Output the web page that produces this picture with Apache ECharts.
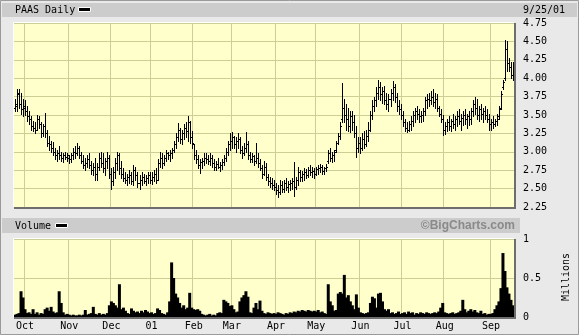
<!DOCTYPE html>
<html><head><meta charset="utf-8">
<script src="https://cdn.jsdelivr.net/npm/echarts@6/dist/echarts.min.js"></script>
<style>html,body{margin:0;padding:0;background:#e9e9e9;overflow:hidden}#c{width:579px;height:335px}</style>
</head><body><div id="c"></div><script>
// ---- data ----
const title = 'PAAS Daily';
const lastDateLabel = '9/25/01';
const startDate = '2000-09-25', endDate = '2001-09-25';
const holidays = ['2000-11-23','2000-12-25','2001-01-01','2001-01-15','2001-02-19','2001-04-13','2001-05-28','2001-07-04','2001-09-03','2001-09-11','2001-09-12','2001-09-13','2001-09-14'];
const monthLabels = ['01','Feb','Mar','Apr','May','Jun','Jul','Aug','Sep','Oct','Nov','Dec'];
const priceTicks = [2.25,2.50,2.75,3.00,3.25,3.50,3.75,4.00,4.25,4.50,4.75];
const volumeTicks = ['0','0.5','1'];

const open = [
3.60,3.62,3.80,3.65,3.58,
3.60,3.55,3.48,3.45,3.35,3.32,3.30,3.45,3.38,3.25,3.35,3.25,3.12,3.10,3.05,3.00,2.95,2.98,2.95,2.92,2.95,2.93,
2.92,2.90,2.95,3.00,2.98,3.05,2.95,2.88,2.82,2.85,2.90,2.82,2.75,2.80,2.70,2.80,2.92,2.85,2.78,2.88,2.92,
2.70,2.60,2.72,2.85,2.95,2.78,2.70,2.65,2.62,2.66,2.68,2.60,2.75,2.68,2.58,2.62,2.66,2.60,2.64,2.68,
2.62,2.66,2.70,2.62,2.85,2.92,2.85,2.92,2.98,2.95,2.98,3.02,3.10,3.20,3.30,3.18,3.25,3.32,3.28,3.40,3.20,
3.10,2.95,2.90,2.82,2.86,2.88,2.92,2.90,2.88,2.92,2.85,2.80,2.84,2.80,2.82,2.86,2.92,3.00,3.10,
3.15,3.20,3.10,3.15,3.18,3.02,2.98,3.05,3.10,2.95,2.90,2.94,2.88,2.92,2.85,2.78,2.70,2.80,2.66,2.60,2.58,2.55,
2.52,2.48,2.45,2.55,2.50,2.58,2.52,2.56,2.58,2.60,2.52,2.62,2.72,2.66,2.70,2.72,2.68,2.75,2.72,2.74,
2.70,2.76,2.78,2.80,2.74,2.78,2.88,2.98,2.92,2.95,3.02,3.12,3.22,3.45,3.60,3.50,3.45,3.35,3.48,3.40,3.25,3.05,
3.12,3.05,3.18,3.10,3.22,3.30,3.50,3.62,3.70,3.80,3.88,3.78,3.82,3.70,3.65,3.72,3.80,3.88,3.75,3.62,3.58,
3.50,3.40,3.32,3.30,3.38,3.42,3.50,3.55,3.52,3.48,3.50,3.55,3.70,3.72,3.70,3.75,3.68,3.72,3.60,3.52,3.45,
3.30,3.35,3.40,3.35,3.42,3.38,3.45,3.48,3.42,3.46,3.50,3.45,3.48,3.44,3.55,3.65,3.60,3.50,3.58,3.52,3.55,3.50,3.45,
3.38,3.40,3.38,3.42,3.48,3.60,3.88,4.00,4.40,4.20,4.15,4.05];
const high = [
3.72,3.86,3.86,3.80,3.72,
3.70,3.62,3.55,3.48,3.42,3.40,3.50,3.48,3.40,3.38,3.53,3.30,3.22,3.15,3.13,3.05,3.02,3.08,3.00,2.98,3.00,2.98,
2.95,2.98,3.05,3.08,3.12,3.08,3.00,2.95,2.92,2.95,2.98,2.88,2.85,2.92,2.85,2.98,3.00,2.98,2.92,3.00,2.95,
2.78,2.80,2.92,3.00,2.98,2.88,2.78,2.72,2.70,2.75,2.72,2.82,2.80,2.72,2.68,2.72,2.70,2.68,2.72,2.72,
2.72,2.75,2.78,2.90,3.00,2.98,2.95,3.02,3.00,3.02,3.05,3.15,3.25,3.39,3.32,3.30,3.38,3.40,3.48,3.42,3.28,
3.10,3.02,2.95,2.90,2.92,2.98,2.98,2.95,2.98,2.96,2.90,2.88,2.92,2.86,2.90,2.95,3.05,3.15,3.25,
3.27,3.22,3.20,3.25,3.20,3.08,3.12,3.27,3.15,3.00,2.98,2.96,3.12,2.98,2.90,2.82,2.88,2.85,2.70,2.66,2.64,2.62,
2.58,2.55,2.62,2.60,2.62,2.65,2.60,2.62,2.64,2.86,2.66,2.80,2.75,2.74,2.78,2.76,2.80,2.82,2.80,2.78,
2.80,2.82,2.84,2.82,2.80,2.84,3.02,3.05,3.00,3.02,3.15,3.25,3.40,3.93,3.72,3.65,3.60,3.55,3.55,3.50,3.35,3.20,
3.20,3.25,3.28,3.30,3.40,3.55,3.70,3.75,3.88,3.98,3.95,3.88,3.90,3.80,3.78,3.85,3.96,3.92,3.80,3.70,3.65,
3.55,3.45,3.40,3.42,3.48,3.55,3.60,3.62,3.58,3.55,3.60,3.75,3.78,3.80,3.82,3.85,3.80,3.78,3.62,3.58,3.50,
3.40,3.45,3.48,3.45,3.52,3.48,3.55,3.58,3.52,3.55,3.58,3.52,3.56,3.60,3.70,3.75,3.72,3.62,3.65,3.60,3.62,3.58,3.52,
3.45,3.48,3.45,3.52,3.62,3.82,3.98,4.52,4.50,4.28,4.22,4.22];
const low = [
3.55,3.55,3.60,3.52,3.48,
3.50,3.42,3.38,3.30,3.28,3.25,3.30,3.32,3.20,3.22,3.20,3.08,3.02,3.00,2.95,2.90,2.88,2.90,2.88,2.86,2.90,2.88,
2.85,2.86,2.90,2.92,2.95,2.92,2.85,2.78,2.75,2.80,2.78,2.70,2.68,2.62,2.62,2.75,2.80,2.72,2.68,2.78,2.65,
2.49,2.55,2.65,2.75,2.70,2.65,2.60,2.58,2.55,2.58,2.56,2.55,2.62,2.52,2.50,2.55,2.58,2.55,2.58,2.58,
2.56,2.60,2.58,2.62,2.80,2.78,2.82,2.88,2.90,2.88,2.92,3.00,3.05,3.15,3.12,3.10,3.18,3.20,3.15,3.12,3.05,
2.90,2.85,2.78,2.71,2.78,2.82,2.85,2.84,2.82,2.80,2.75,2.75,2.78,2.74,2.76,2.82,2.88,2.96,3.02,
3.05,3.05,3.00,3.05,2.98,2.92,2.95,3.00,2.90,2.86,2.86,2.82,2.85,2.80,2.75,2.65,2.68,2.62,2.55,2.52,2.50,2.48,
2.42,2.39,2.42,2.45,2.46,2.48,2.45,2.48,2.50,2.40,2.50,2.55,2.60,2.60,2.62,2.64,2.66,2.68,2.66,2.65,
2.68,2.70,2.72,2.70,2.70,2.74,2.85,2.88,2.86,2.88,3.00,3.10,3.18,3.40,3.40,3.30,3.28,3.27,3.30,3.20,2.93,3.00,
2.98,3.02,3.05,3.08,3.15,3.28,3.45,3.55,3.62,3.72,3.70,3.66,3.65,3.58,3.55,3.62,3.70,3.68,3.55,3.52,3.45,
3.35,3.28,3.27,3.28,3.30,3.35,3.40,3.45,3.40,3.40,3.42,3.50,3.60,3.62,3.65,3.62,3.60,3.55,3.48,3.40,3.23,
3.24,3.28,3.30,3.28,3.32,3.30,3.35,3.38,3.30,3.36,3.38,3.32,3.36,3.38,3.48,3.52,3.45,3.42,3.45,3.40,3.45,3.40,3.30,
3.30,3.32,3.35,3.36,3.45,3.58,3.85,3.98,4.10,4.10,4.00,3.98];
const close = [
3.65,3.78,3.65,3.58,3.62,
3.55,3.48,3.45,3.35,3.32,3.30,3.45,3.38,3.25,3.35,3.25,3.12,3.10,3.05,3.00,2.95,2.98,2.95,2.92,2.95,2.93,2.95,
2.90,2.95,3.00,2.98,3.05,2.95,2.88,2.82,2.85,2.90,2.82,2.75,2.80,2.70,2.80,2.92,2.85,2.78,2.88,2.92,2.70,
2.60,2.72,2.85,2.95,2.78,2.70,2.65,2.62,2.66,2.68,2.60,2.75,2.68,2.58,2.62,2.66,2.60,2.64,2.68,2.62,
2.66,2.70,2.62,2.85,2.92,2.85,2.92,2.98,2.95,2.98,3.02,3.10,3.20,3.30,3.18,3.25,3.32,3.28,3.40,3.20,3.12,
2.95,2.90,2.82,2.86,2.88,2.92,2.90,2.88,2.92,2.85,2.80,2.84,2.80,2.82,2.86,2.92,3.00,3.10,3.15,
3.20,3.10,3.15,3.18,3.02,2.98,3.05,3.10,2.95,2.90,2.94,2.88,2.92,2.85,2.78,2.70,2.80,2.66,2.60,2.58,2.55,2.52,
2.48,2.45,2.55,2.50,2.58,2.52,2.56,2.58,2.60,2.52,2.62,2.72,2.66,2.70,2.72,2.68,2.75,2.72,2.74,2.70,
2.76,2.78,2.80,2.74,2.78,2.80,2.98,2.92,2.95,3.00,3.12,3.22,3.35,3.60,3.50,3.45,3.35,3.48,3.40,3.25,3.05,3.12,
3.05,3.18,3.10,3.22,3.30,3.50,3.62,3.70,3.80,3.88,3.78,3.82,3.70,3.65,3.72,3.80,3.88,3.75,3.62,3.58,3.50,
3.40,3.32,3.30,3.38,3.42,3.50,3.55,3.52,3.48,3.50,3.55,3.70,3.72,3.70,3.75,3.68,3.72,3.60,3.52,3.45,3.30,
3.35,3.40,3.35,3.42,3.38,3.45,3.48,3.42,3.46,3.50,3.45,3.48,3.44,3.55,3.65,3.60,3.50,3.58,3.52,3.55,3.50,3.45,3.38,
3.40,3.38,3.42,3.45,3.58,3.78,3.95,4.40,4.20,4.15,4.05,4.18];
const volume = [
0.03,0.04,0.05,0.33,0.25,
0.10,0.05,0.06,0.04,0.10,0.04,0.06,0.03,0.05,0.04,0.10,0.12,0.08,0.13,0.07,0.05,0.06,0.33,0.18,0.06,0.03,0.04,
0.03,0.02,0.03,0.02,0.02,0.03,0.02,0.03,0.09,0.03,0.04,0.05,0.13,0.04,0.03,0.05,0.03,0.04,0.03,0.05,0.15,
0.20,0.18,0.15,0.12,0.42,0.10,0.12,0.08,0.05,0.04,0.11,0.08,0.06,0.07,0.05,0.08,0.06,0.09,0.07,0.05,
0.06,0.04,0.05,0.11,0.09,0.05,0.04,0.03,0.06,0.20,0.70,0.50,0.30,0.25,0.18,0.12,0.15,0.10,0.12,0.31,0.12,
0.10,0.09,0.10,0.08,0.04,0.03,0.02,0.03,0.04,0.02,0.03,0.02,0.05,0.06,0.05,0.22,0.20,0.18,0.14,
0.15,0.10,0.06,0.07,0.20,0.25,0.28,0.33,0.26,0.06,0.05,0.12,0.18,0.10,0.21,0.08,0.05,0.04,0.06,0.05,0.04,0.05,
0.04,0.06,0.05,0.04,0.03,0.05,0.04,0.06,0.05,0.07,0.06,0.08,0.07,0.09,0.08,0.07,0.09,0.08,0.07,0.08,
0.07,0.09,0.06,0.07,0.05,0.04,0.42,0.20,0.15,0.08,0.09,0.30,0.32,0.30,0.54,0.25,0.28,0.20,0.15,0.10,0.29,0.12,
0.06,0.05,0.04,0.05,0.06,0.18,0.26,0.24,0.12,0.30,0.31,0.20,0.10,0.08,0.10,0.05,0.06,0.04,0.05,0.07,0.04,
0.05,0.06,0.04,0.07,0.05,0.06,0.03,0.05,0.04,0.06,0.05,0.04,0.06,0.05,0.04,0.05,0.06,0.05,0.07,0.12,0.18,
0.06,0.05,0.04,0.05,0.06,0.04,0.05,0.06,0.08,0.22,0.10,0.06,0.08,0.10,0.07,0.09,0.06,0.05,0.08,0.04,0.05,0.03,0.04,
0.04,0.05,0.10,0.15,0.20,0.37,0.82,0.59,0.38,0.30,0.22,0.15];

// ---- trading-day categories ----
const dates = [];
(function(){
  const d = new Date(startDate + 'T00:00:00Z'), e = new Date(endDate + 'T00:00:00Z');
  while (d <= e) {
    const s = d.toISOString().slice(0,10), w = d.getUTCDay();
    if (w !== 0 && w !== 6 && holidays.indexOf(s) < 0) dates.push(s);
    d.setUTCDate(d.getUTCDate() + 1);
  }
})();
const isMonthStart = i => i > 0 && dates[i].slice(0,7) !== dates[i-1].slice(0,7);
const ohlc = dates.map((d, i) => [i, open[i], high[i], low[i], close[i]]);

const FONT = 'DejaVu Sans Mono';
const GRIDC = '#cdcd96';
const G0 = {left:14, top:23, width:500, height:184};
const G1 = {left:14, top:239, width:500, height:78};

const chart = echarts.init(document.getElementById('c'), null, {renderer:'canvas'});
function xAxisFor(gi, showLabels){
  return {
    type:'category', gridIndex:gi, data:dates, boundaryGap:true,
    axisLine:{show:false}, axisTick:{show:false},
    axisLabel:{show:showLabels, interval:(i)=>isMonthStart(i), margin:4,
      fontFamily:FONT, fontSize:10, color:'#000',
      formatter:(v)=>monthLabels[parseInt(v.slice(5,7),10)-1]},
    splitLine:{show:true, interval:(i)=>isMonthStart(i), lineStyle:{color:GRIDC, width:1}}
  };
}
const frame = (g) => [
  {type:'polyline', silent:true, shape:{points:[[g.left-0.5,g.top+g.height],[g.left-0.5,g.top-0.5],[g.left+g.width,g.top-0.5]]}, style:{stroke:'#ffffff', lineWidth:1, fill:null}, z:10},
  {type:'polyline', silent:true, shape:{points:[[g.left,g.top+g.height+1],[g.left+g.width+1,g.top+g.height+1],[g.left+g.width+1,g.top]]}, style:{stroke:'#6e6e6e', lineWidth:2, fill:null}, z:10}
];

chart.setOption({
  animation:false,
  backgroundColor:'#e9e9e9',
  grid:[
    Object.assign({show:true, backgroundColor:'#ffffcc', borderWidth:0}, G0),
    Object.assign({show:true, backgroundColor:'#ffffcc', borderWidth:0}, G1)
  ],
  xAxis:[xAxisFor(0,false), xAxisFor(1,true)],
  yAxis:[
    {type:'value', gridIndex:0, position:'right', min:priceTicks[0], max:priceTicks[priceTicks.length-1], interval:0.25,
     axisLine:{show:false}, axisTick:{show:false},
     axisLabel:{margin:9, fontFamily:FONT, fontSize:10, color:'#000', formatter:(v)=>v.toFixed(2)},
     splitLine:{show:true, lineStyle:{color:GRIDC, width:1}}},
    {type:'value', gridIndex:1, position:'right', min:0, max:1, interval:0.5,
     axisLine:{show:false}, axisTick:{show:false},
     axisLabel:{margin:9, fontFamily:FONT, fontSize:10, color:'#000', formatter:(v)=>volumeTicks[Math.round(v*2)]},
     splitLine:{show:true, lineStyle:{color:GRIDC, width:1}}}
  ],
  series:[
    {type:'custom', xAxisIndex:0, yAxisIndex:0, data:ohlc, encode:{x:0, y:[1,2,3,4]}, clip:true,
     renderItem:function(params, api){
       const i = api.value(0);
       const h = api.coord([i, api.value(2)]);
       const l = api.coord([i, api.value(3)]);
       const o = api.coord([i, api.value(1)]);
       const c = api.coord([i, api.value(4)]);
       const px = Math.round(h[0]);
       const x = px + 0.5;
       const st = {stroke:'#000', lineWidth:1};
       return {type:'group', children:[
         {type:'line', shape:{x1:x, y1:Math.round(h[1]), x2:x, y2:Math.round(l[1])+1}, style:st},
         {type:'line', shape:{x1:px-1, y1:Math.round(o[1])+0.5, x2:px, y2:Math.round(o[1])+0.5}, style:st},
         {type:'line', shape:{x1:px+1, y1:Math.round(c[1])+0.5, x2:px+2, y2:Math.round(c[1])+0.5}, style:st}
       ]};
     }},
    {type:'bar', xAxisIndex:1, yAxisIndex:1, data:volume, barWidth:3, itemStyle:{color:'#000'}}
  ],
  graphic:[
    {type:'rect', silent:true, shape:{x:0.5,y:0.5,width:578,height:334}, style:{fill:null, stroke:'#9a9a9a', lineWidth:1}, z:1},
    {type:'rect', silent:true, shape:{x:2,y:3,width:575,height:14}, style:{fill:'#cccccc'}, z:1},
    {type:'rect', silent:true, shape:{x:2,y:218,width:518,height:15}, style:{fill:'#cccccc'}, z:1},
    {type:'text', silent:true, x:15, y:10, style:{text:title, font:'10px "DejaVu Sans Mono"', fill:'#000', verticalAlign:'middle'}, z:5},
    {type:'rect', silent:true, shape:{x:78.5,y:7.5,width:12,height:4}, style:{fill:'#000', stroke:'#fff', lineWidth:1}, z:5},
    {type:'text', silent:true, x:523, y:10, style:{text:lastDateLabel, font:'10px "DejaVu Sans Mono"', fill:'#000', verticalAlign:'middle'}, z:5},
    {type:'text', silent:true, x:15, y:226, style:{text:'Volume', font:'10px "DejaVu Sans Mono"', fill:'#000', verticalAlign:'middle'}, z:5},
    {type:'rect', silent:true, shape:{x:55.5,y:223.5,width:12,height:4}, style:{fill:'#000', stroke:'#fff', lineWidth:1}, z:5},
    {type:'text', silent:true, x:515, y:226, style:{text:'\u00a9BigCharts.com', font:'bold 12px "Liberation Sans"', fill:'#8a8a8a', align:'right', verticalAlign:'middle'}, z:5},
    {type:'text', silent:true, x:566, y:277, rotation:Math.PI/2, style:{text:'Millions', font:'10px "DejaVu Sans Mono"', fill:'#000', align:'center', verticalAlign:'middle'}, z:5}
  ].concat(frame(G0), frame(G1))
});
</script></body></html>
